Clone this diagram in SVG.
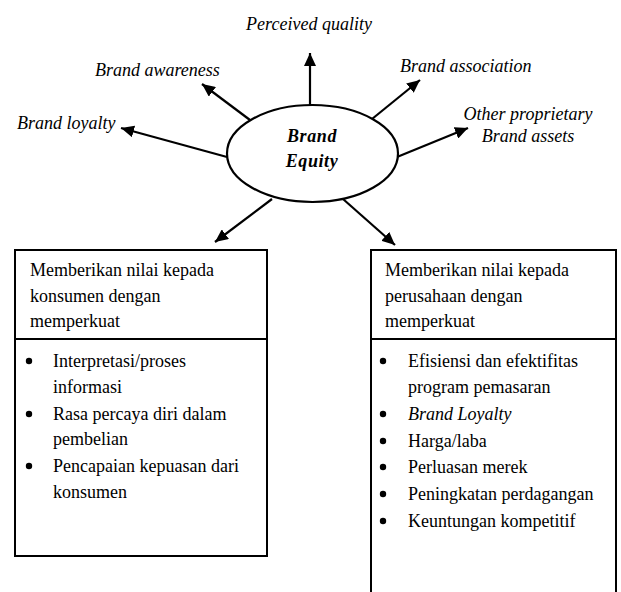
<svg xmlns="http://www.w3.org/2000/svg" width="621" height="592" viewBox="0 0 621 592">
<style>
text{font-family:"Liberation Serif","Times New Roman",serif;font-size:18px;fill:#000}
.it{font-style:italic}
.bi{font-style:italic;font-weight:bold}
.box{fill:#fff;stroke:#000;stroke-width:2}
.con line{stroke:#000;stroke-width:2.2}
.bul{fill:#000}
</style>
<defs>
<marker id="ah" markerUnits="userSpaceOnUse" markerWidth="14" markerHeight="12" refX="13" refY="6" orient="auto">
<path d="M0,0 L13,6 L0,12 z" fill="#000"/>
</marker>
</defs>
<rect width="621" height="592" fill="#fff"/>
<g id="connectors" class="con">
<line x1="310" y1="106" x2="310" y2="53" marker-end="url(#ah)"/>
<line x1="250" y1="120" x2="202" y2="84" marker-end="url(#ah)"/>
<line x1="227" y1="157" x2="121" y2="128" marker-end="url(#ah)"/>
<line x1="372" y1="119" x2="420" y2="80" marker-end="url(#ah)"/>
<line x1="397" y1="157" x2="468" y2="128" marker-end="url(#ah)"/>
<line x1="272" y1="199" x2="215" y2="242" marker-end="url(#ah)"/>
<line x1="343" y1="199" x2="395" y2="245" marker-end="url(#ah)"/>
</g>
<g id="brand-equity">
<ellipse cx="312.5" cy="153.5" rx="85.5" ry="48.5" fill="#fff" stroke="#000" stroke-width="2.2"/>
<text class="bi" x="312" y="142" text-anchor="middle" letter-spacing="0.6">Brand</text>
<text class="bi" x="312" y="167" text-anchor="middle" letter-spacing="0.6">Equity</text>
</g>
<g id="perceived-quality"><text class="it" x="309" y="30" text-anchor="middle">Perceived quality</text></g>
<g id="brand-awareness"><text class="it" x="95" y="76">Brand awareness</text></g>
<g id="brand-loyalty"><text class="it" x="17" y="129">Brand loyalty</text></g>
<g id="brand-association"><text class="it" x="400" y="72">Brand association</text></g>
<g id="other-assets">
<text class="it" x="528" y="120" text-anchor="middle">Other proprietary</text>
<text class="it" x="528" y="142" text-anchor="middle">Brand assets</text>
</g>
<g id="box-konsumen">
<rect class="box" x="15" y="250" width="252" height="306"/>
<line x1="15" y1="339" x2="267" y2="339" stroke="#000" stroke-width="2"/>
<text x="30" y="276">Memberikan nilai kepada</text>
<text x="30" y="302">konsumen dengan</text>
<text x="30" y="327">memperkuat</text>
<circle class="bul" cx="29" cy="361" r="3.2"/><text x="53" y="367">Interpretasi/proses</text>
<text x="53" y="393">informasi</text>
<circle class="bul" cx="29" cy="414" r="3.2"/><text x="53" y="420">Rasa percaya diri dalam</text>
<text x="53" y="445">pembelian</text>
<circle class="bul" cx="29" cy="466" r="3.2"/><text x="53" y="472">Pencapaian kepuasan dari</text>
<text x="53" y="498">konsumen</text>
</g>
<g id="box-perusahaan">
<rect class="box" x="371" y="250" width="245" height="350"/>
<line x1="371" y1="339" x2="616" y2="339" stroke="#000" stroke-width="2"/>
<text x="385" y="276">Memberikan nilai kepada</text>
<text x="385" y="302">perusahaan dengan</text>
<text x="385" y="327">memperkuat</text>
<circle class="bul" cx="383" cy="361" r="3.2"/><text x="408" y="367">Efisiensi dan efektifitas</text>
<text x="408" y="393">program pemasaran</text>
<circle class="bul" cx="383" cy="414" r="3.2"/><text class="it" x="408" y="420">Brand Loyalty</text>
<circle class="bul" cx="383" cy="441" r="3.2"/><text x="408" y="447">Harga/laba</text>
<circle class="bul" cx="383" cy="467" r="3.2"/><text x="408" y="473">Perluasan merek</text>
<circle class="bul" cx="383" cy="494" r="3.2"/><text x="408" y="500">Peningkatan perdagangan</text>
<circle class="bul" cx="383" cy="521" r="3.2"/><text x="408" y="527">Keuntungan kompetitif</text>
</g>
</svg>
